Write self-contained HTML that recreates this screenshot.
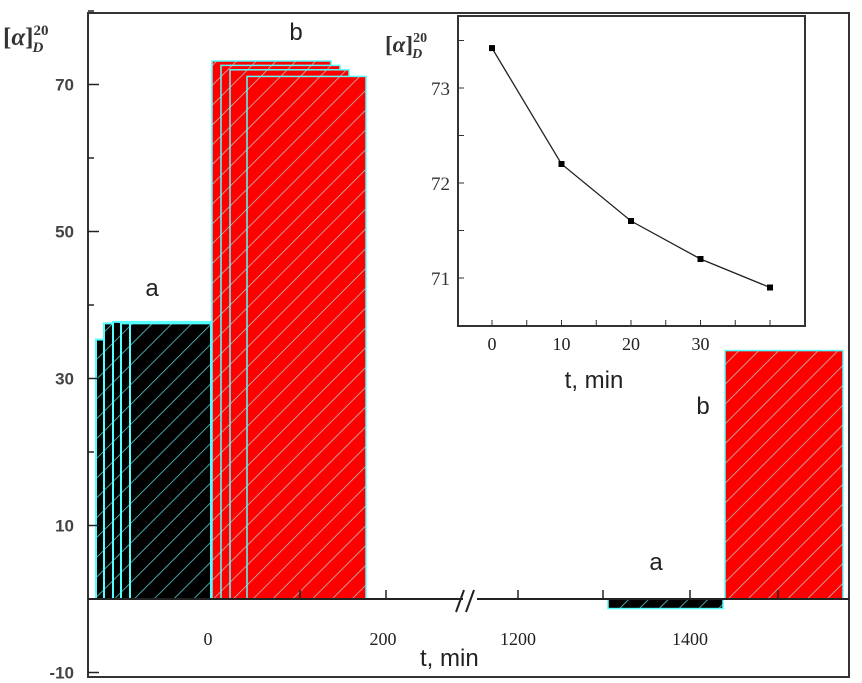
<!DOCTYPE html>
<html><head><meta charset="utf-8"><style>
html,body{margin:0;padding:0;background:#fff;}
svg{display:block;font-family:"Liberation Sans",sans-serif;}
</style></head><body>
<svg id="chart" width="862" height="683" viewBox="0 0 862 683">
<defs>
<pattern id="hatchBlack" patternUnits="userSpaceOnUse" width="14" height="14" patternTransform="rotate(45)">
<rect width="14" height="14" fill="#000"/><line x1="0" y1="0" x2="0" y2="14" stroke="#5cc" stroke-width="1.6"/></pattern>
<pattern id="hatchRed" patternUnits="userSpaceOnUse" width="14" height="14" patternTransform="rotate(45)">
<rect width="14" height="14" fill="#f00"/><line x1="0" y1="0" x2="0" y2="14" stroke="#bbb" stroke-width="1.6"/></pattern>
</defs>
<g id="main"></g>
<g id="inset"></g>
</svg>
<script>
// Main chart data
const mainYTicks = [70, 50, 30, 10, -10];
const groupA1 = [35.3, 37.5, 37.7, 37.5, 37.5];   // left black stack
const groupB1 = [73.2, 72.6, 72.0, 71.1];        // left red stack
const barA2 = [-1.3];
const barB2 = [33.8];
const xLabels = ["0", "200", "1200", "1400"];
// Inset data
const insetT = [0, 10, 20, 30, 40];
const insetVal = [73.42, 72.2, 71.6, 71.2, 70.9];
const insetYTicks = [73, 72, 71];
const insetXTicks = [0, 10, 20, 30];

const NS = "http://www.w3.org/2000/svg";
function el(tag, attrs, parent, text){
  const e = document.createElementNS(NS, tag);
  for (const k in attrs) e.setAttribute(k, attrs[k]);
  if (text !== undefined) e.textContent = text;
  parent.appendChild(e); return e;
}
const main = document.getElementById('main');
const inset = document.getElementById('inset');
const y = v => 599 - v * 7.35;
const fL = 88, fR = 849, fT = 13, fB = 677;

const aX = [96, 104, 113, 121, 130];
groupA1.forEach((v, i) => {
  const r = el('rect', {x: aX[i], y: y(v), width: 211 - aX[i], height: y(0) - y(v), fill: 'url(#hatchBlack)', stroke: '#5ff', 'stroke-width': 2}, main);
  
  
});
const bX = [212, 221, 230, 247], bW = [119, 119, 119, 119];
groupB1.forEach((v, i) => {
  const r = el('rect', {x: bX[i], y: y(v), width: bW[i], height: y(0) - y(v), fill: 'url(#hatchRed)', stroke: '#5ff', 'stroke-width': 1.5}, main);
  
  
});
barA2.forEach((v) => {
  const r = el('rect', {x: 608, y: y(0), width: 115, height: y(v) - y(0), fill: 'url(#hatchBlack)', stroke: '#5ff', 'stroke-width': 1.5}, main);
  
  
});
barB2.forEach((v) => {
  const r = el('rect', {x: 725, y: y(v), width: 118, height: y(0) - y(v), fill: 'url(#hatchRed)', stroke: '#5ff', 'stroke-width': 1.5}, main);
  
  
});

const fr = el('rect', {x: fL, y: fT, width: fR - fL, height: fB - fT, fill: 'none', stroke: '#333', 'stroke-width': 2}, main);


const zl = el('line', {x1: fL, y1: y(0), x2: 463, y2: y(0), stroke: '#222', 'stroke-width': 2}, main);


const zl2 = el('line', {x1: 477, y1: y(0), x2: fR, y2: y(0), stroke: '#222', 'stroke-width': 2}, main);


const br = el('path', {d: 'M456,612 L464,590 M466,612 L474,590', stroke: '#222', 'stroke-width': 2, fill: 'none'}, main);


[300, 386, 518, 603, 690, 778].forEach(x => { el('line', {x1: x, y1: y(0), x2: x, y2: y(0) - 9, stroke: '#222', 'stroke-width': 1.5}, main); });

for (let v = 80; v >= -10; v -= 10) {
  const major = mainYTicks.includes(v);
  el('line', {x1: fL, y1: y(v), x2: fL + (major ? 11 : 6), y2: y(v), stroke: '#222', 'stroke-width': 1.5}, main);
}
mainYTicks.forEach(v => {
  const t = el('text', {x: 74, y: y(v) + 6, 'text-anchor': 'end', 'font-size': 17, 'font-weight': 'bold', fill: '#444'}, main, String(v));
  
  
});
const xPos = [208, 383, 518, 690];
xLabels.forEach((s, i) => {
  const t = el('text', {x: xPos[i], y: 645, 'text-anchor': 'middle', 'font-size': 18, fill: '#222', 'font-family': '"Liberation Serif",serif'}, main, s);
  
  
});
const xt = el('text', {x: 420, y: 666, 'font-size': 24, fill: '#222'}, main, 't, min');


const yt = el('text', {x: 3, y: 45, 'font-size': 25, 'font-weight': 'bold', fill: '#333', 'font-family': '"Liberation Serif",serif'}, main);
yt.innerHTML = '[<tspan font-style="italic">α</tspan>]<tspan font-size="15" dy="-10">20</tspan><tspan font-size="15" dx="-16" dy="17" font-style="italic">D</tspan>';


[['a', 152, 296], ['b', 296, 40], ['a', 656, 570], ['b', 703, 414]].forEach(([s, x, yy]) => {
  const t = el('text', {x: x, y: yy, 'text-anchor': 'middle', 'font-size': 24, fill: '#222'}, main, s);
  
  
});

const iL = 458, iR = 805, iT = 16, iB = 326;
const ix = t => 492 + t * 6.95;
const iy = v => 88 - (v - 73) * 95;
const ib = el('rect', {x: iL, y: iT, width: iR - iL, height: iB - iT, fill: '#fff', stroke: '#333', 'stroke-width': 2}, inset);


for (let v = 73.5; v >= 70.5; v -= 0.5) {
  el('line', {x1: iL, y1: iy(v), x2: iL + 6, y2: iy(v), stroke: '#333', 'stroke-width': 1}, inset);
}
for (let t = 0; t <= 40; t += 5) {
  el('line', {x1: ix(t), y1: iB, x2: ix(t), y2: iB - 6, stroke: '#333', 'stroke-width': 1}, inset);
}
insetYTicks.forEach(v => {
  const t = el('text', {x: 450, y: iy(v) + 7, 'text-anchor': 'end', 'font-size': 19, fill: '#333', 'font-family': '"Liberation Serif",serif'}, inset, String(v));
  
  
});
insetXTicks.forEach(v => {
  const t = el('text', {x: ix(v), y: 350, 'text-anchor': 'middle', 'font-size': 18, fill: '#222', 'font-family': '"Liberation Serif",serif'}, inset, String(v));
  
  
});
const ixt = el('text', {x: 594, y: 388, 'text-anchor': 'middle', 'font-size': 24, fill: '#222'}, inset, 't, min');


const iyt = el('text', {x: 385, y: 52, 'font-size': 23, 'font-weight': 'bold', fill: '#333', 'font-family': '"Liberation Serif",serif'}, inset);
iyt.innerHTML = '[<tspan font-style="italic">α</tspan>]<tspan font-size="14" dy="-10">20</tspan><tspan font-size="14" dx="-15" dy="16" font-style="italic">D</tspan>';


const pts = insetT.map((t, i) => ix(t) + ',' + iy(insetVal[i])).join(' ');
const ln = el('polyline', {points: pts, fill: 'none', stroke: '#222', 'stroke-width': 1.3}, inset);


insetT.forEach((t, i) => {
  const p = el('rect', {x: ix(t) - 3, y: iy(insetVal[i]) - 3, width: 6, height: 6, fill: '#000'}, inset);
  
  
});
</script>
</body></html>
